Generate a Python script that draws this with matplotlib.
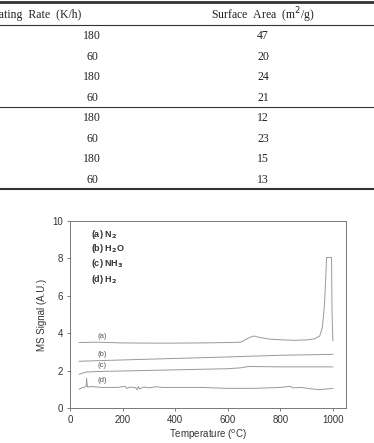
import matplotlib
matplotlib.use("Agg")
import matplotlib.pyplot as plt
from matplotlib.lines import Line2D

# table data
heating_rate = [180, 60, 180, 60, 180, 60, 180, 60]
surface_area = [47, 20, 24, 21, 12, 23, 15, 13]

# MS signal traces
t_a = [35, 100, 200, 300, 400, 500, 600, 650, 680, 700, 720, 760, 800, 850, 900, 930, 950, 960, 968, 973, 976, 995, 997, 1000]
s_a = [3.50, 3.52, 3.48, 3.47, 3.47, 3.48, 3.50, 3.52, 3.75, 3.85, 3.78, 3.68, 3.65, 3.62, 3.64, 3.70, 3.85, 4.3, 5.5, 7.0, 8.05, 8.05, 5.0, 3.6]
t_b = [35, 200, 400, 600, 800, 1000]
s_b = [2.50, 2.57, 2.65, 2.73, 2.82, 2.87]
t_c = [35, 60, 100, 200, 400, 600, 650, 680, 800, 1000]
s_c = [1.80, 1.92, 1.95, 1.98, 2.04, 2.10, 2.15, 2.22, 2.20, 2.20]
t_d = [35, 45, 55, 62, 63, 66, 67, 80, 120, 180, 210, 215, 230, 250, 255, 260, 265, 280, 300, 330, 350, 400, 500, 600, 700, 800, 840, 845, 880, 920, 950, 1000]
s_d = [1.00, 1.08, 1.12, 1.15, 1.60, 1.15, 1.12, 1.15, 1.10, 1.10, 1.16, 1.05, 1.12, 1.08, 0.98, 1.15, 1.02, 1.12, 1.08, 1.14, 1.10, 1.10, 1.10, 1.05, 1.05, 1.10, 1.16, 1.08, 1.10, 1.02, 0.98, 1.05]

curve_labels = ["(a)", "(b)", "(c)", "(d)"]
label_y = [3.85, 2.85, 2.25, 1.45]
legend_text = [r"(a) N$_\mathbf{2}$", r"(b) H$_\mathbf{2}$O", r"(c) NH$_\mathbf{3}$", r"(d) H$_\mathbf{2}$"]
legend_y = [9.3, 8.55, 7.75, 6.85]

W, H = 374, 443
fig = plt.figure(figsize=(W / 100, H / 100), dpi=100)


def fy(px):
    return 1 - px / H


def hline(y_px, lw):
    fig.add_artist(Line2D([0, 1], [fy(y_px), fy(y_px)], transform=fig.transFigure, color="#333333", lw=lw))


# table (left edge is cropped in the source scan)
serif = "Liberation Serif"
hline(2, 2.0)
hline(25, 0.8)
hline(107, 0.8)
hline(189, 1.5)
fig.text(-0.04, fy(15), "Heating  Rate  (K/h)", family=serif, fontsize=8.5, va="center", color="#222222")
fig.text(263 / W, fy(15), r"Surface  Area  (m$^2$/g)", family=serif, fontsize=8.5, va="center", ha="center", color="#222222")
row_y = [36, 57, 77, 98, 118, 139, 159, 180]
for y, hr, sa in zip(row_y, heating_rate, surface_area):
    fig.text(92 / W, fy(y), str(hr), family=serif, fontsize=8.5, ha="center", va="center", color="#222222")
    fig.text(263 / W, fy(y), str(sa), family=serif, fontsize=8.5, ha="center", va="center", color="#222222")

# chart
plt.rcParams["font.family"] = ["Liberation Sans", "DejaVu Sans"]
ax = fig.add_axes([70 / W, 35 / H, 276 / W, 187 / H])
lc = "#999999"
for t, s in [(t_a, s_a), (t_b, s_b), (t_c, s_c), (t_d, s_d)]:
    ax.plot(t, s, color=lc, lw=0.7)
for lab, y in zip(curve_labels, label_y):
    ax.text(103, y, lab, fontsize=5.5, color="#555555", va="center")
for lab, y in zip(legend_text, legend_y):
    ax.text(80, y, lab, fontsize=6.5, color="#333333", va="center", fontweight="bold")

ax.set_xlim(0, 1050)
ax.set_ylim(0, 10)
ax.set_xticks([0, 200, 400, 600, 800, 1000])
ax.set_yticks([0, 2, 4, 6, 8, 10])
ax.tick_params(labelsize=7, length=2.5, width=0.6, color="#666666", labelcolor="#333333", pad=2.5)
for sp in ax.spines.values():
    sp.set_color("#777777")
    sp.set_linewidth(0.7)
ax.set_xlabel(r"Temperature ($^\mathrm{o}$C)", fontsize=7, color="#333333", labelpad=2)
ax.set_ylabel("MS Signal (A.U.)", fontsize=7, color="#333333", labelpad=4)

fig.savefig("out.png", dpi=100)
